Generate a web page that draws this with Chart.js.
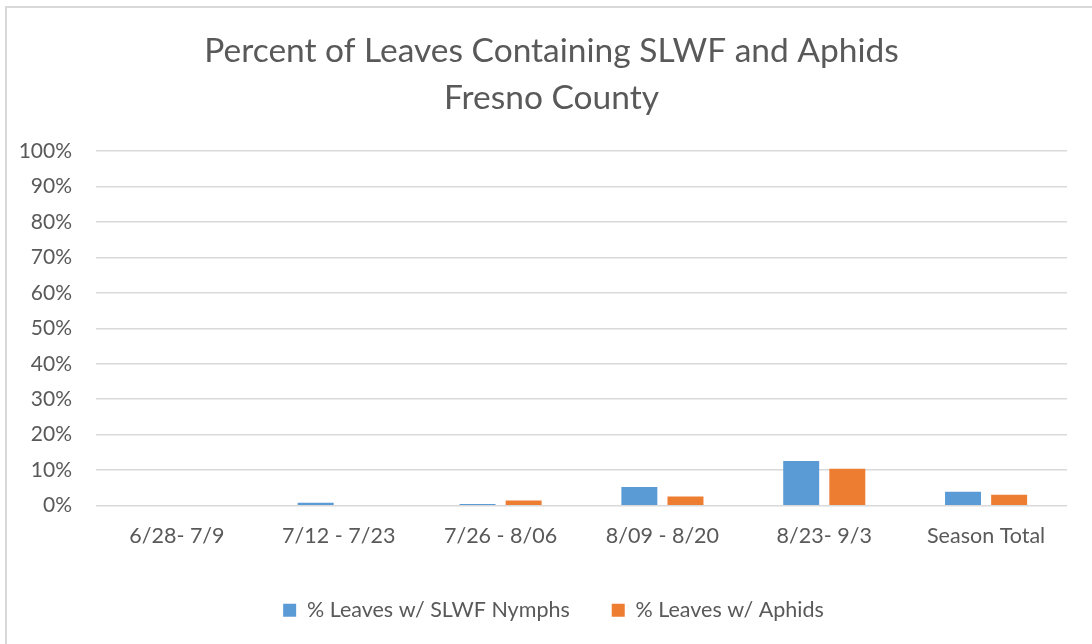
<!DOCTYPE html>
<html>
<head>
<meta charset="utf-8">
<script src="https://cdn.jsdelivr.net/npm/chart.js@4.4.1/dist/chart.umd.min.js"></script>
<style>
html,body{margin:0;padding:0;background:#fff;}
#wrap{width:1092px;height:644px;position:relative;}
</style>
</head>
<body>
<div id="wrap"><canvas id="c" width="1092" height="644"></canvas></div>
<script>
const categories = ["6/28- 7/9", "7/12 - 7/23", "7/26 - 8/06", "8/09 - 8/20", "8/23- 9/3", "Season Total"];
const slwfNymphs = [0, 0.8, 0.5, 5.3, 12.6, 3.9];
const aphids = [0, 0, 1.5, 2.6, 10.4, 3.1];
const seriesNames = ["% Leaves w/ SLWF Nymphs", "% Leaves w/ Aphids"];
const titleLines = ["Percent of Leaves Containing SLWF and Aphids", "Fresno County"];

const FONT = "Lato, Carlito, Calibri, sans-serif";
const TXT = "#595959";
const GRID = "#d9d9d9";

const borderPlugin = {
  id: 'frame',
  beforeDraw(chart) {
    const ctx = chart.ctx;
    ctx.save();
    ctx.fillStyle = '#fff';
    ctx.fillRect(0, 0, chart.width, chart.height);
    ctx.strokeStyle = GRID;
    ctx.lineWidth = 2;
    ctx.beginPath();
    ctx.moveTo(6, chart.height + 5);
    ctx.lineTo(6, 7);
    ctx.lineTo(chart.width + 5, 7);
    ctx.stroke();
    ctx.restore();
  },
  afterLayout(chart) {
    // centre title and legend on the whole chart frame rather than the padded box
    if (chart.titleBlock) { chart.titleBlock.left += 18; chart.titleBlock.right += 18; }
    if (chart.legend) { chart.legend.left += 20; chart.legend.right += 20; }
  }
};

new Chart(document.getElementById('c'), {
  type: 'bar',
  data: {
    labels: categories,
    datasets: [
      { label: seriesNames[0], data: slwfNymphs, backgroundColor: '#5b9bd5', categoryPercentage: 0.57, barPercentage: 0.78 },
      { label: seriesNames[1], data: aphids, backgroundColor: '#ed7d31', categoryPercentage: 0.57, barPercentage: 0.78 }
    ]
  },
  plugins: [borderPlugin],
  options: {
    responsive: false,
    animation: false,
    layout: { padding: { left: 0, right: 25, top: 28, bottom: 13 } },
    plugins: {
      title: {
        display: true,
        text: titleLines,
        color: TXT,
        font: { family: FONT, size: 33.5, weight: 'normal', lineHeight: 1.4 },
        padding: { top: 0, bottom: 29 }
      },
      legend: {
        position: 'bottom',
        labels: {
          color: TXT,
          font: { family: FONT, size: 21.5 },
          boxWidth: 13, boxHeight: 13,
          padding: 42
        }
      },
      tooltip: { enabled: false }
    },
    scales: {
      x: {
        grid: { display: false },
        border: { display: false },
        ticks: { color: TXT, font: { family: FONT, size: 21.5 }, padding: 9, maxRotation: 0 }
      },
      y: {
        min: 0, max: 100,
        afterFit(scale) { scale.width = 96; },
        grid: { color: GRID, lineWidth: 1.5, drawTicks: false },
        border: { display: false },
        ticks: { stepSize: 10, color: TXT, font: { family: FONT, size: 21 }, padding: 24,
          callback: v => v + '%' }
      }
    }
  }
});
</script>
</body>
</html>
